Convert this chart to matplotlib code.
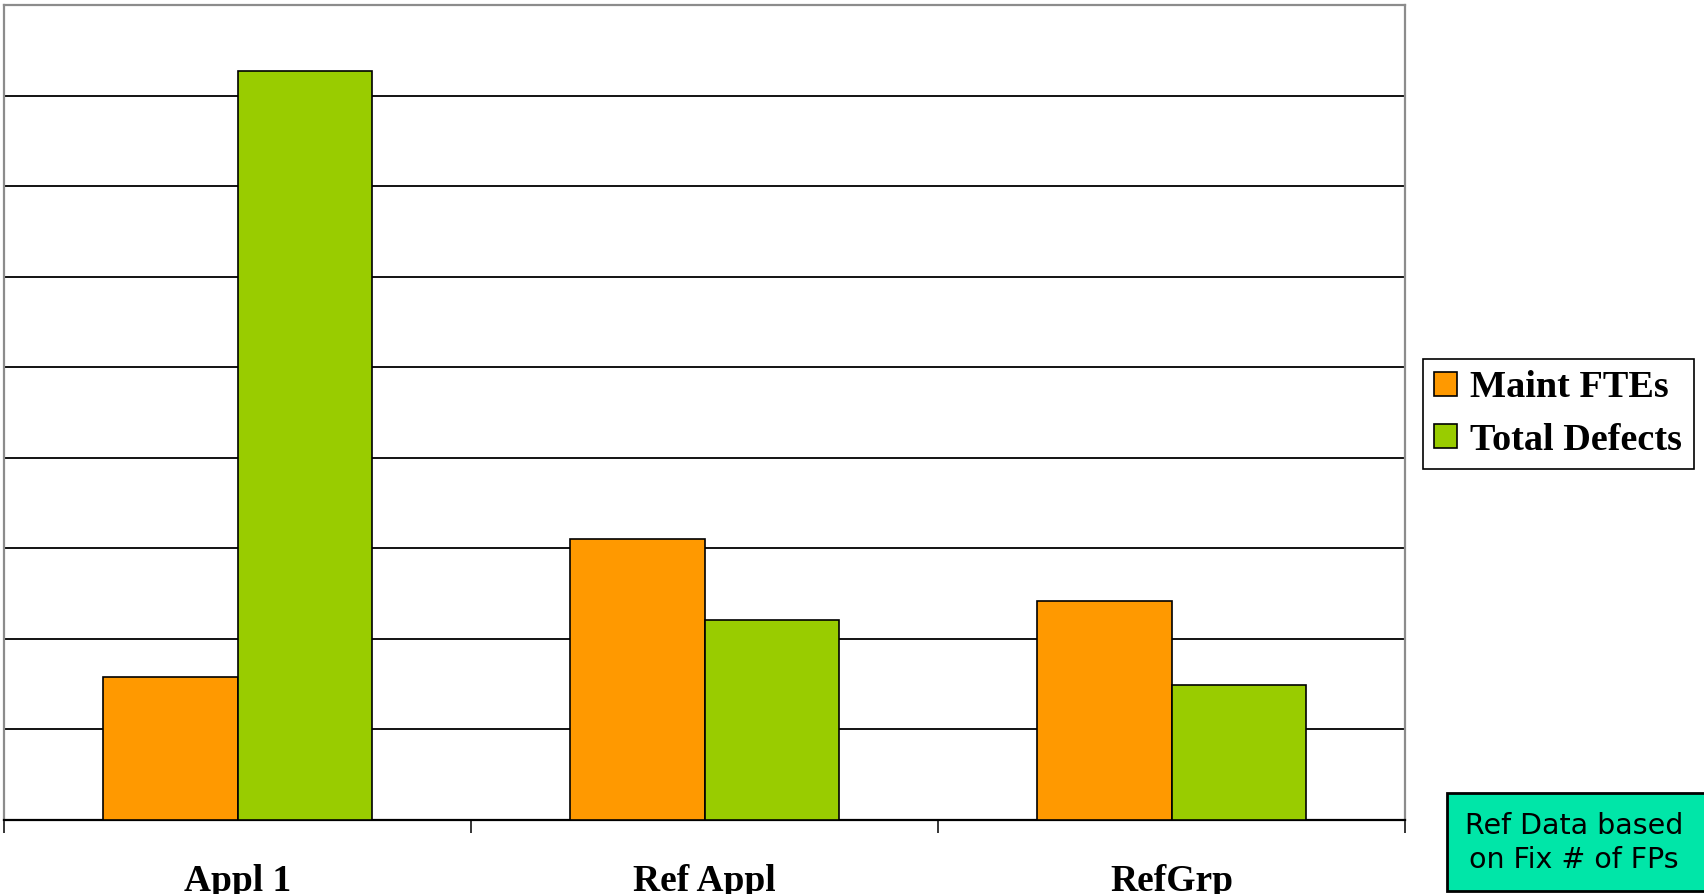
import matplotlib
matplotlib.use("Agg")
import matplotlib.pyplot as plt
import matplotlib.transforms as mtransforms
import numpy as np
from matplotlib.patches import Rectangle, Patch

# Dados do gráfico (unidades das linhas de grade)
categorias = ['Appl 1', 'Ref Appl', 'RefGrp']
maint_ftes = [1.57, 3.10, 2.41]
total_defects = [8.27, 2.21, 1.49]
series = ['Maint FTEs', 'Total Defects']
cores = ['#FF9900', '#99CC00']

W, H = 1704, 894
fig = plt.figure(figsize=(W / 100, H / 100), dpi=100)
ax = fig.add_axes([4 / W, 1 - 819.5 / H, 1401 / W, (819.5 - 5.3) / H])

x = np.arange(len(categorias))
largura = 0.287
ax.bar(x - largura / 2, maint_ftes, largura, color=cores[0],
       edgecolor='black', linewidth=1.2, zorder=3)
ax.bar(x + largura / 2, total_defects, largura, color=cores[1],
       edgecolor='black', linewidth=1.2, zorder=3)

ax.set_xlim(-0.5, len(categorias) - 0.5)
ax.set_ylim(0, 9)
ax.set_yticks(np.arange(1, 9))
ax.yaxis.grid(True, color='black', linewidth=1.3, zorder=0)
ax.tick_params(axis='y', length=0, labelleft=False)

# Marcas entre as categorias no eixo x
ax.set_xticks(np.arange(-0.5, len(categorias)), minor=True)
ax.set_xticks([])
ax.tick_params(axis='x', which='minor', length=9.5, width=1.1,
               color='black', direction='out')

for lado in ['left', 'top', 'right']:
    ax.spines[lado].set_color('#8c8c8c')
    ax.spines[lado].set_linewidth(1.6)
ax.spines['bottom'].set_color('black')
ax.spines['bottom'].set_linewidth(1.6)

# Rótulos das categorias
trans = mtransforms.blended_transform_factory(ax.transData, fig.transFigure)
for xi, nome in zip(x, categorias):
    ax.text(xi, 1 - 891 / H, nome, transform=trans,
            ha='center', va='baseline', fontsize=27, fontweight='bold',
            family='Liberation Serif')

# Legenda
handles = [Patch(facecolor=c, edgecolor='black', linewidth=1.2) for c in cores]
leg = fig.legend(handles, series, loc='upper left',
                 bbox_to_anchor=(1422.7 / W, 1 - 359 / H),
                 prop={'family': 'Liberation Serif', 'weight': 'bold', 'size': 27.5},
                 fancybox=False, edgecolor='black', framealpha=1,
                 handlelength=0.6, handleheight=0.6, handletextpad=0.35,
                 borderpad=0.3, labelspacing=0.45, borderaxespad=0)
leg.get_frame().set_linewidth(1.2)

# Caixa de nota
caixa = Rectangle((1447 / W, 1 - 891 / H), (W - 1446) / W, 98 / H,
                  transform=fig.transFigure, facecolor='#00E6A8',
                  edgecolor='black', linewidth=2, clip_on=False)
fig.patches.append(caixa)
fig.text(1574 / W, 1 - 843 / H, 'Ref Data based\non Fix # of FPs',
         ha='center', va='center', fontsize=20.5, family='DejaVu Sans',
         linespacing=1.3)

fig.savefig('out.png', dpi=100)
